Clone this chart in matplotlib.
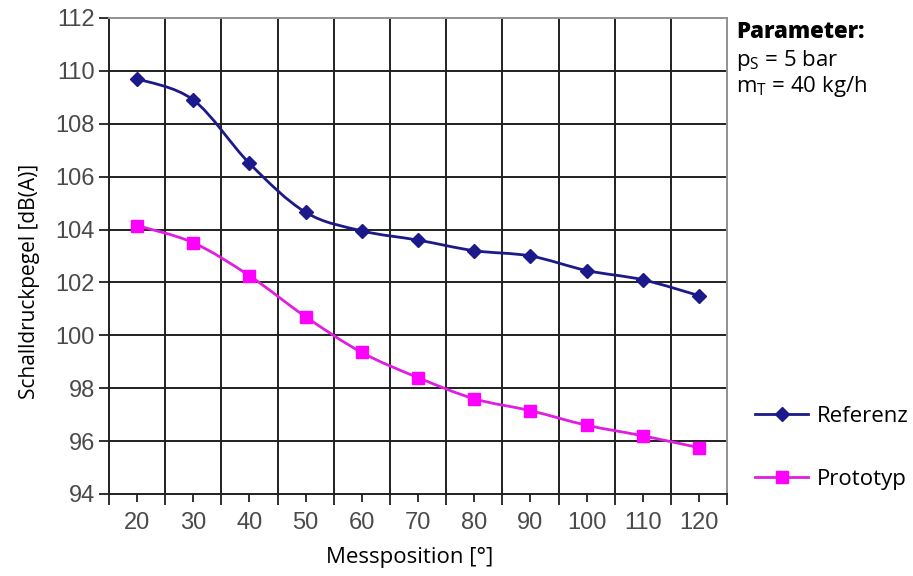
import numpy as np
import matplotlib
matplotlib.use("Agg")
import matplotlib.pyplot as plt
from matplotlib.path import Path
from matplotlib.patches import PathPatch
from matplotlib.lines import Line2D

# data
positions = [20, 30, 40, 50, 60, 70, 80, 90, 100, 110, 120]
referenz = [109.7, 108.9, 106.5, 104.65, 103.95, 103.6, 103.2, 103.0, 102.45, 102.1, 101.5]
prototyp = [104.15, 103.5, 102.25, 100.7, 99.35, 98.4, 97.6, 97.15, 96.6, 96.2, 95.75]
y_ticks = [94, 96, 98, 100, 102, 104, 106, 108, 110, 112]

ref_color = "#1c1a8a"
proto_color = "#ff00ff"
proto_line = "#e01ee0"


def smooth_path(x, y):
    # Excel-like smoothed line: cubic bezier segments through the points
    pts = np.column_stack([x, y]).astype(float)
    n = len(pts)
    verts = [pts[0]]
    codes = [Path.MOVETO]
    for i in range(n - 1):
        p0 = pts[max(i - 1, 0)]
        p1 = pts[i]
        p2 = pts[i + 1]
        p3 = pts[min(i + 2, n - 1)]
        c1 = p1 + (p2 - p0) / 6.0
        c2 = p2 - (p3 - p1) / 6.0
        verts += [c1, c2, p2]
        codes += [Path.CURVE4] * 3
    return Path(verts, codes)


fig = plt.figure(figsize=(9.13, 5.76), dpi=100)
ax = fig.add_axes([0.1194, 0.1424, 0.677, 0.8264])

ax.set_xlim(15, 125)
ax.set_ylim(94, 112)

# grid
for gx in range(25, 125, 10):
    ax.axvline(gx, color="#202020", lw=1.4, zorder=1)
for gy in y_ticks[1:-1]:
    ax.axhline(gy, color="#202020", lw=1.4, zorder=1)

for vals, col, lcol, mk, ms in [(referenz, ref_color, ref_color, "D", 7),
                                 (prototyp, proto_color, proto_line, "s", 8)]:
    ax.add_patch(PathPatch(smooth_path(positions, vals), facecolor="none",
                           edgecolor=lcol, lw=2.0, zorder=3))
    ax.plot(positions, vals, ls="none", marker=mk, ms=ms, color=col, zorder=4)

ax.set_xticks(positions)
ax.set_xticks(list(range(15, 130, 10)), minor=True)
ax.set_yticks(y_ticks)
ax.tick_params(axis="both", which="both", direction="out", color="#202020",
               width=1.3, labelcolor="#4a4a4a", labelsize=17)
ax.tick_params(axis="x", which="major", length=6, pad=7)
ax.tick_params(axis="x", which="minor", length=8)
ax.tick_params(axis="y", length=7, pad=3)
for lab in ax.get_xticklabels() + ax.get_yticklabels():
    lab.set_family("Liberation Sans")

for side in ["left", "bottom"]:
    ax.spines[side].set_color("#202020")
    ax.spines[side].set_linewidth(1.4)
for side in ["top", "right"]:
    ax.spines[side].set_color("#909090")
    ax.spines[side].set_linewidth(1.4)

ax.set_xlabel("Messposition [°]", fontsize=16, family="Open Sans")
ax.set_ylabel("Schalldruckpegel [dB(A)]", fontsize=15, family="Open Sans")
ax.xaxis.set_label_coords(0.487, -0.112)
ax.yaxis.set_label_coords(-0.112, 0.447)

# parameter box
fig.text(0.806, 0.945, "Parameter:", fontsize=16, fontweight="heavy", family="Open Sans", va="center")
fig.text(0.806, 0.895, r"p$_\mathregular{S}$ = 5 bar", fontsize=16, family="Open Sans", va="center")
fig.text(0.806, 0.850, r"m$_\mathregular{T}$ = 40 kg/h", fontsize=16, family="Open Sans", va="center")

handles = [Line2D([], [], color=ref_color, lw=2.0, marker="D", ms=7),
           Line2D([], [], color=proto_line, lw=2.0, marker="s", ms=8, mfc=proto_color, mec=proto_color)]
fig.legend(handles, ["Referenz", "Prototyp"], loc="center left",
           bbox_to_anchor=(0.805, 0.222), frameon=False, prop={"family": "Open Sans", "size": 16},
           handlelength=2.4, handletextpad=0.4, labelspacing=1.9)

fig.savefig("out.png", dpi=100)
